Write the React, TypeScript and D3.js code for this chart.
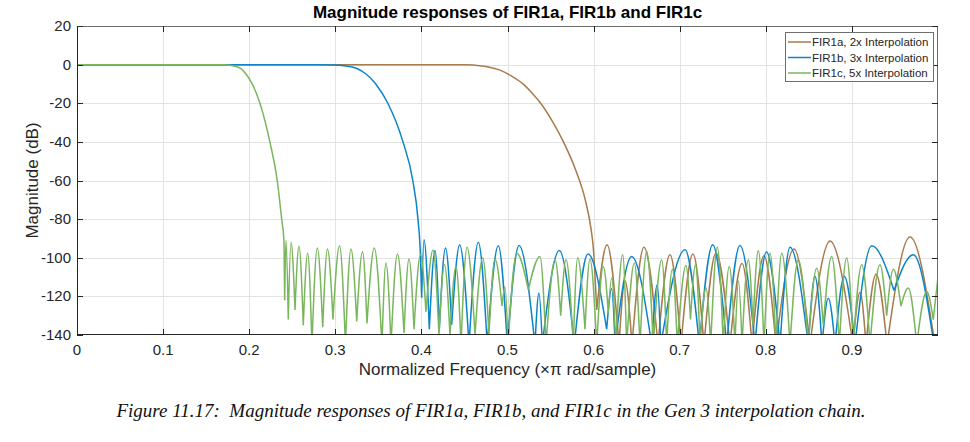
import React, { useRef, useEffect } from 'react';
import * as d3 from 'd3';

type Pt = [number, number];

// Passband and transition band, [normalized freq, dB]
const passbandA: Pt[] = [
  [0, 0], [0.45, 0], [0.46, -0.15], [0.475, -1], [0.492, -3], [0.505, -6],
  [0.518, -10], [0.529, -15], [0.5385, -20], [0.553, -30], [0.565, -40],
  [0.5795, -55], [0.5903, -70], [0.597, -85], [0.5997, -95], [0.6036, -127],
];
const passbandB: Pt[] = [
  [0, 0], [0.28, 0], [0.295, -0.15], [0.31, -0.6], [0.325, -2], [0.336, -5],
  [0.347, -10], [0.361, -20], [0.3786, -40], [0.39, -60], [0.396, -80],
  [0.399, -100], [0.4003, -120.7],
];
const passbandC: Pt[] = [
  [0, 0], [0.17, 0], [0.178, -0.3], [0.185, -1], [0.19, -2], [0.1965, -5],
  [0.2035, -10], [0.2125, -20], [0.224, -40], [0.2326, -60], [0.2377, -80],
  [0.2404, -91.5], [0.2412, -122],
];

// Stopband ripple: alternating null / peak, [normalized freq, dB]
const lobesA: Pt[] = [
  [0.6036, -127], [0.6156, -93.3], [0.6295, -145], [0.6365, -112], [0.6446, -145],
  [0.6585, -94.5], [0.6748, -145], [0.6887, -98.4], [0.7015, -145], [0.7154, -98],
  [0.7282, -145], [0.7422, -97.6], [0.7584, -145], [0.7724, -103], [0.784, -145],
  [0.7979, -99], [0.8118, -145], [0.8328, -95.5], [0.8513, -145], [0.8746, -91.3],
  [0.9013, -145], [0.9094, -118], [0.9164, -145], [0.928, -108.5], [0.9408, -145],
  [0.9675, -89.3], [0.9965, -145],
];
const lobesB: Pt[] = [
  [0.4003, -120.7], [0.403, -90.7], [0.4092, -137], [0.4158, -96.2], [0.4208, -137],
  [0.428, -95], [0.4352, -134.7], [0.4445, -93.3], [0.4553, -145], [0.4661, -92],
  [0.4765, -145], [0.4893, -93.8], [0.4998, -145], [0.5134, -93.6], [0.5319, -145],
  [0.5366, -118.3], [0.5404, -145], [0.5602, -96.2], [0.5776, -145], [0.5935, -98],
  [0.6152, -137], [0.621, -116], [0.6249, -145], [0.6442, -99.3], [0.6675, -145],
  [0.674, -114], [0.678, -145], [0.7062, -95.9], [0.7228, -145], [0.7383, -93.3],
  [0.7546, -145], [0.77, -93.6], [0.7875, -145], [0.8008, -97], [0.8165, -145],
  [0.8281, -94.5], [0.8494, -145], [0.8571, -109.7], [0.8653, -145], [0.8726, -121],
  [0.8804, -145], [0.8912, -109.7], [0.9036, -145], [0.923, -93.8], [0.9489, -117],
  [0.9713, -98.4], [0.9955, -145],
];
const lobesC: Pt[] = [
  [0.2412, -122], [0.2427, -91], [0.2454, -132], [0.2485, -92], [0.2532, -127],
  [0.2578, -94], [0.2628, -135], [0.2679, -97.6], [0.2729, -145], [0.2791, -95],
  [0.2854, -136], [0.2909, -95.5], [0.2973, -132], [0.3049, -93.8], [0.3118, -145],
  [0.3182, -95.5], [0.3249, -133], [0.3316, -96.9], [0.3368, -134], [0.3453, -95],
  [0.3542, -145], [0.3589, -102.7], [0.3647, -145], [0.3722, -98], [0.3798, -139],
  [0.3856, -100.7], [0.3914, -137], [0.399, -98.4], [0.4053, -128], [0.4135, -96],
  [0.4204, -140], [0.4268, -103.6], [0.4332, -140], [0.4402, -104.5], [0.446, -145],
  [0.453, -94.5], [0.4623, -140], [0.4712, -100], [0.4785, -140], [0.4855, -100.7],
  [0.4936, -125], [0.4971, -115], [0.5006, -145], [0.5107, -97.6], [0.5242, -116.6],
  [0.5377, -99.3], [0.5447, -145], [0.5552, -101], [0.5618, -130], [0.568, -101],
  [0.5764, -145], [0.5815, -100], [0.59, -137], [0.5958, -100.7], [0.6036, -145],
  [0.6113, -104.5], [0.6171, -128.5], [0.621, -110.5], [0.6257, -145], [0.6338, -98.4],
  [0.6384, -145], [0.6473, -102.7], [0.6539, -145], [0.6617, -96.7], [0.6693, -145],
  [0.6791, -101], [0.6849, -145], [0.6914, -106], [0.6972, -145], [0.7073, -104],
  [0.7125, -132], [0.7184, -103.6], [0.7236, -145], [0.7305, -115.7], [0.736, -145],
  [0.7437, -94.5], [0.7506, -145], [0.7576, -104.5], [0.7642, -145], [0.7683, -112],
  [0.7724, -145], [0.7797, -101], [0.7851, -135], [0.7913, -96.2], [0.7979, -145],
  [0.8049, -97.6], [0.8118, -145], [0.8185, -97.6], [0.8281, -145], [0.8377, -101],
  [0.8494, -145], [0.8591, -105.4], [0.8668, -135], [0.8765, -99.3], [0.8854, -145],
  [0.8939, -100], [0.9016, -145], [0.9114, -103.6], [0.921, -145], [0.9326, -103.6],
  [0.9404, -130], [0.9481, -106], [0.957, -125], [0.9655, -115.7], [0.9753, -145],
  [0.9869, -117.5], [0.9945, -132], [1.0, -110],
];

const seriesNames = ['FIR1a, 2x Interpolation', 'FIR1b, 3x Interpolation', 'FIR1c, 5x Interpolation'];
const seriesColors = ['#a87a4c', '#0b84c9', '#7ab65e'];

const xTicks = [0, 0.1, 0.2, 0.3, 0.4, 0.5, 0.6, 0.7, 0.8, 0.9];
const yTicks = [20, 0, -20, -40, -60, -80, -100, -120, -140];

const App: React.FC = () => {
  const svgRef = useRef<SVGSVGElement>(null);

  useEffect(() => {
    if (!svgRef.current) return;
    const svg = d3.select(svgRef.current);
    svg.selectAll('*').remove();

    const plot = { left: 77, right: 938, top: 26, bottom: 335 };
    const x = d3.scaleLinear().domain([0, 1]).range([plot.left, plot.right]);
    const y = d3.scaleLinear().domain([-140, 20]).range([plot.bottom, plot.top]);
    const font = 'Liberation Sans, Arial, Helvetica, sans-serif';

    svg.append('rect').attr('width', 970).attr('height', 442).attr('fill', '#fff');

    svg.append('defs').append('clipPath').attr('id', 'plot-clip')
      .append('rect')
      .attr('x', plot.left).attr('y', plot.top)
      .attr('width', plot.right - plot.left).attr('height', plot.bottom - plot.top);

    // Grid
    const grid = svg.append('g').attr('stroke', '#e3e3e3').attr('stroke-width', 1);
    xTicks.slice(1).forEach(t => {
      grid.append('line')
        .attr('x1', Math.round(x(t)) + 0.5).attr('x2', Math.round(x(t)) + 0.5)
        .attr('y1', plot.top).attr('y2', plot.bottom);
    });
    yTicks.slice(1, -1).forEach(t => {
      grid.append('line')
        .attr('x1', plot.left).attr('x2', plot.right)
        .attr('y1', Math.round(y(t)) + 0.5).attr('y2', Math.round(y(t)) + 0.5);
    });

    // Curves
    const line = d3.line<Pt>()
      .x(d => x(d[0]))
      .y(d => y(d[1]))
      .curve(d3.curveMonotoneX);

    const curves = svg.append('g').attr('clip-path', 'url(#plot-clip)');
    const allSeries = [
      { pass: passbandA, lobes: lobesA },
      { pass: passbandB, lobes: lobesB },
      { pass: passbandC, lobes: lobesC },
    ];
    allSeries.forEach((s, i) => {
      // each lobe runs null -> peak -> null, so the nulls stay sharp
      const segments: Pt[][] = [];
      for (let k = 0; k + 1 < s.lobes.length; k += 2) {
        segments.push(s.lobes.slice(k, Math.min(k + 3, s.lobes.length)));
      }
      const d = [s.pass, ...segments].map(seg => line(seg)).join('');
      curves.append('path')
        .attr('d', d)
        .attr('fill', 'none')
        .attr('stroke', seriesColors[i])
        .attr('stroke-width', 1.5)
        .attr('stroke-linejoin', 'round');
    });

    // Axes box and ticks
    const axis = svg.append('g').attr('stroke', '#262626').attr('stroke-width', 1);
    axis.append('rect')
      .attr('x', plot.left + 0.5).attr('y', plot.top + 0.5)
      .attr('width', plot.right - plot.left - 1).attr('height', plot.bottom - plot.top - 1)
      .attr('fill', 'none').attr('stroke', '#6e6e6e');
    axis.append('line').attr('x1', plot.left).attr('x2', plot.right)
      .attr('y1', plot.bottom - 0.5).attr('y2', plot.bottom - 0.5);
    axis.append('line').attr('x1', plot.left + 0.5).attr('x2', plot.left + 0.5)
      .attr('y1', plot.top).attr('y2', plot.bottom);
    xTicks.forEach(t => {
      const px = Math.round(x(t)) + 0.5;
      axis.append('line').attr('x1', px).attr('x2', px).attr('y1', plot.bottom).attr('y2', plot.bottom - 6);
      axis.append('line').attr('x1', px).attr('x2', px).attr('y1', plot.top).attr('y2', plot.top + 6);
    });
    yTicks.forEach(t => {
      const py = Math.round(y(t)) + 0.5;
      axis.append('line').attr('x1', plot.left).attr('x2', plot.left + 6).attr('y1', py).attr('y2', py);
      axis.append('line').attr('x1', plot.right).attr('x2', plot.right - 6).attr('y1', py).attr('y2', py);
    });

    const labels = svg.append('g').attr('font-family', font).attr('fill', '#262626');
    xTicks.forEach(t => {
      labels.append('text')
        .attr('x', x(t)).attr('y', plot.bottom + 20)
        .attr('text-anchor', 'middle').attr('font-size', 15)
        .text(String(t));
    });
    yTicks.forEach(t => {
      labels.append('text')
        .attr('x', plot.left - 6).attr('y', y(t) + 5)
        .attr('text-anchor', 'end').attr('font-size', 15)
        .text(String(t));
    });

    labels.append('text')
      .attr('x', (plot.left + plot.right) / 2).attr('y', 375)
      .attr('text-anchor', 'middle').attr('font-size', 17)
      .text('Normalized Frequency (\u00d7\u03c0 rad/sample)');
    labels.append('text')
      .attr('transform', `translate(38, ${(plot.top + plot.bottom) / 2}) rotate(-90)`)
      .attr('text-anchor', 'middle').attr('font-size', 17)
      .text('Magnitude (dB)');
    labels.append('text')
      .attr('x', (plot.left + plot.right) / 2).attr('y', 18)
      .attr('text-anchor', 'middle').attr('font-size', 17).attr('font-weight', 'bold')
      .attr('fill', '#000')
      .text('Magnitude responses of FIR1a, FIR1b and FIR1c');

    // Legend
    const legend = svg.append('g').attr('font-family', font);
    legend.append('rect')
      .attr('x', 785.5).attr('y', 32.5).attr('width', 148).attr('height', 49)
      .attr('fill', '#fff').attr('stroke', '#6e6e6e');
    seriesNames.forEach((name, i) => {
      const ly = 42 + i * 15.5;
      legend.append('line')
        .attr('x1', 788).attr('x2', 811).attr('y1', ly).attr('y2', ly)
        .attr('stroke', seriesColors[i]).attr('stroke-width', 1.5);
      legend.append('text')
        .attr('x', 812).attr('y', ly + 4)
        .attr('font-size', 11.5).attr('fill', '#262626')
        .text(name);
    });

    // Caption
    svg.append('text')
      .attr('x', 491).attr('y', 417)
      .attr('text-anchor', 'middle')
      .attr('font-family', 'Liberation Serif, Times New Roman, serif')
      .attr('font-style', 'italic').attr('font-size', 19)
      .attr('fill', '#111')
      .style('white-space', 'pre')
      .text('Figure 11.17:  Magnitude responses of FIR1a, FIR1b, and FIR1c in the Gen 3 interpolation chain.');
  }, []);

  return (
    <div style={{ position: 'absolute', left: 0, top: 0 }}>
      <svg ref={svgRef} width={970} height={442} style={{ display: 'block' }} />
    </div>
  );
};

export default App;
